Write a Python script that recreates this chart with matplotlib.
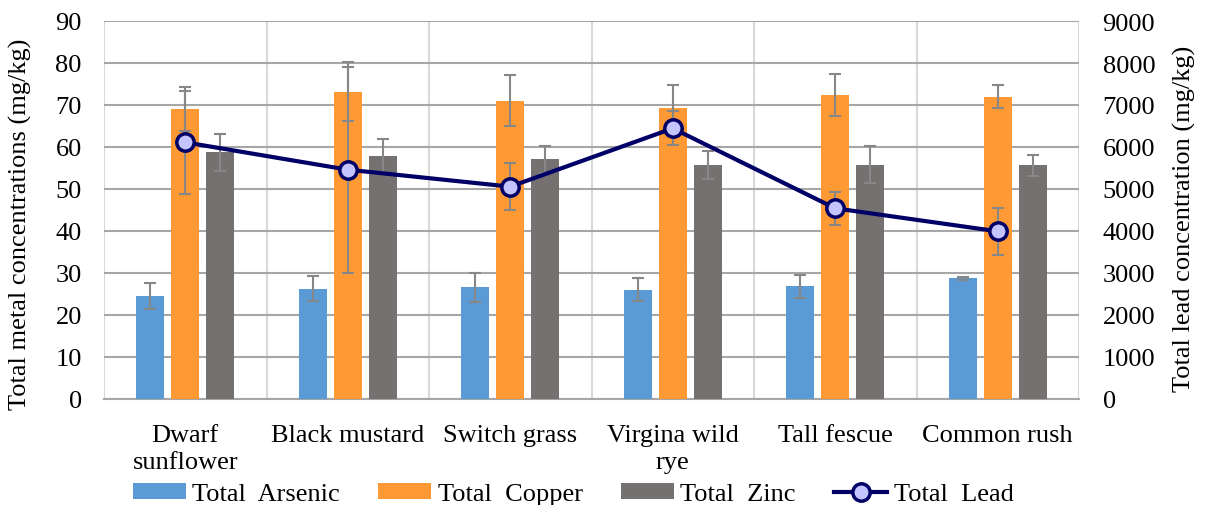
import matplotlib
matplotlib.use("Agg")
import matplotlib.pyplot as plt
import numpy as np

categories = ["Dwarf\nsunflower", "Black mustard", "Switch grass", "Virgina wild\nrye", "Tall fescue", "Common rush"]
arsenic = [24.6, 26.3, 26.6, 26.0, 26.8, 28.7]
arsenic_err = [3.1, 3.0, 3.4, 2.7, 2.8, 0.35]
copper = [69.0, 73.2, 71.0, 69.4, 72.4, 72.0]
copper_err = [5.3, 7.0, 6.1, 5.3, 5.0, 2.7]
zinc = [58.7, 57.9, 57.1, 55.7, 55.8, 55.6]
zinc_err = [4.4, 4.1, 3.2, 3.3, 4.4, 2.6]
lead = [6111, 5460, 5056, 6444, 4540, 3992]
lead_err = [1230, 2450, 556, 405, 400, 555]

plt.rcParams['font.family'] = ['Liberation Serif', 'DejaVu Serif']
FS = 19

fig = plt.figure(figsize=(12.09, 5.06), dpi=100)
ax = fig.add_axes([104/1209, 1-400/506, 975/1209, 378/506])
ax2 = ax.twinx()

x = np.arange(len(categories))
w = 0.172
sp = 0.215
ekw = dict(ecolor='#878787', elinewidth=1.5, capsize=4, capthick=1.5)
ax.bar(x - sp, arsenic, w, color='#5B9BD5', yerr=arsenic_err, error_kw=ekw, label='Total  Arsenic', zorder=3)
ax.bar(x, copper, w, color='#FF9933', yerr=copper_err, error_kw=ekw, label='Total  Copper', zorder=3)
ax.bar(x + sp, zinc, w, color='#767171', yerr=zinc_err, error_kw=ekw, label='Total  Zinc', zorder=3)

ax2.errorbar(x, lead, yerr=lead_err, fmt='none', ecolor='#878787', elinewidth=1.5, capsize=4, capthick=1.5, zorder=2)
ax2.plot(x, lead, color='#000066', lw=3, marker='o', markersize=12.5,
         markerfacecolor='#C4C4FF', markeredgecolor='#000066', markeredgewidth=2.5, label='Total  Lead', zorder=3)

ax.set_xlim(-0.5, len(categories) - 0.5)
ax.set_ylim(0, 90)
ax.set_yticks(np.arange(0, 91, 10))
ax2.set_ylim(0, 9000)
ax2.set_yticks(np.arange(0, 9001, 1000))

ax.set_xticks(x)
ax.set_xticklabels(categories, fontsize=FS, linespacing=1.3)
ax.tick_params(axis='x', length=0, pad=18)
ax.tick_params(axis='y', length=0, labelsize=FS, pad=16)
ax2.tick_params(axis='y', length=0, labelsize=FS, pad=17)

ax.set_ylabel('Total metal concentrations (mg/kg)', fontsize=FS)
ax.yaxis.set_label_coords((20 - 104) / 975, (400 - 224.5) / 378)
ax.yaxis.label.set_verticalalignment('center')
ax2.set_ylabel('Total lead concentration (mg/kg)', fontsize=FS)
ax2.yaxis.set_label_coords((1184 - 104) / 975, (400 - 218.5) / 378)
ax2.yaxis.label.set_verticalalignment('center')

for a in (ax, ax2):
    for s in a.spines.values():
        s.set_visible(False)
ax.spines['bottom'].set_visible(True)
ax.spines['bottom'].set_color('#A6A6A6')
ax.spines['bottom'].set_linewidth(1.5)

ax.yaxis.grid(True, color='#A6A6A6', lw=1.5, zorder=0)
ax.set_axisbelow(True)
for xv in np.arange(-0.5, len(categories), 1.0):
    ax.axvline(xv, color='#D9D9D9', lw=1.5, zorder=0)

h1, l1 = ax.get_legend_handles_labels()
h2, l2 = ax2.get_legend_handles_labels()
fig.legend(h1 + h2, l1 + l2, loc='center left', bbox_to_anchor=(133/1209, 1-495/506), ncol=4,
           frameon=False, fontsize=FS, handlelength=2.0, handleheight=0.55, handletextpad=0.25,
           columnspacing=1.45, borderpad=0, borderaxespad=0)

fig.savefig('out.png', dpi=100)
